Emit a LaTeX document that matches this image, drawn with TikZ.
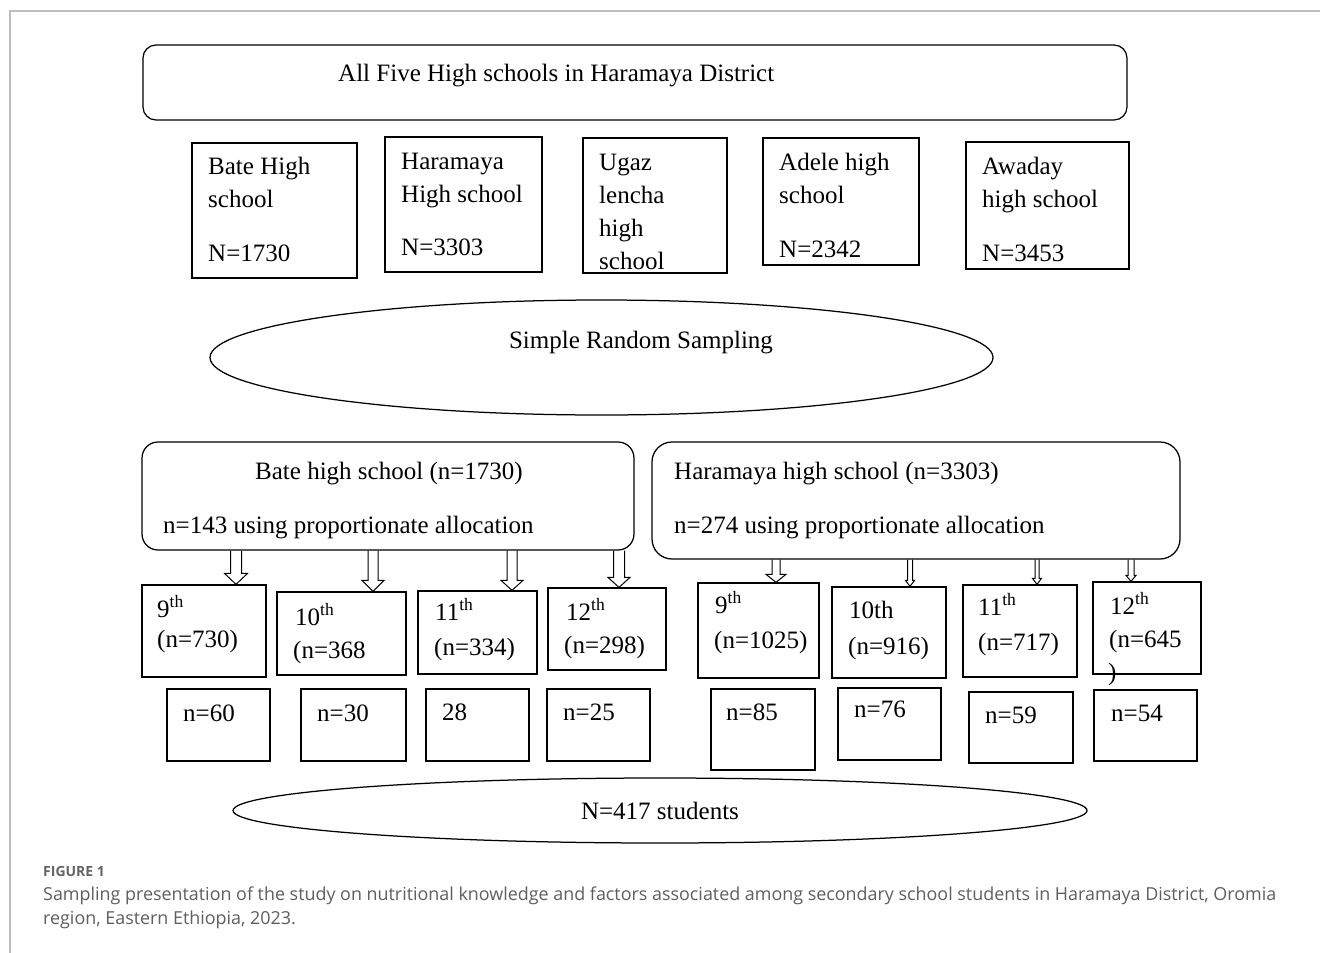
\documentclass[tikz,border=0pt]{standalone}
\usepackage{fontspec}
\setmainfont{Liberation Serif}
\newfontfamily\capfont{Open Sans}
\usetikzlibrary{shapes.geometric,calc}
\definecolor{framegray}{RGB}{190,190,190}
\definecolor{capgray}{RGB}{95,95,95}
\definecolor{figgray}{RGB}{100,100,100}
\tikzset{
  sbox/.style={draw, line width=1.25pt, rectangle, inner sep=0pt},
  rbox/.style={sbox, rounded corners=#1},
  oval/.style={draw, line width=1.25pt, ellipse, inner sep=0pt},
  lbl/.style={anchor=base west, inner sep=0pt, font=\fontsize{25}{30}\selectfont},
  clbl/.style={anchor=base, inner sep=0pt, font=\fontsize{25}{30}\selectfont},
  arrowline/.style={draw, line width=1pt, line join=miter},
  captxt/.style={anchor=base west, inner sep=0pt, text=capgray, font=\capfont\fontsize{17.9}{22}\selectfont},
}
\newcommand\blkarrow[6]{%
  \draw[arrowline] let \p2=(#2.south), \p3=(#3.north) in
    (#1pt-#4pt,\y2) -- (#1pt-#4pt,\y3+#6pt) -- (#1pt-#5pt,\y3+#6pt) -- (#1pt,\y3)
    -- (#1pt+#5pt,\y3+#6pt) -- (#1pt+#4pt,\y3+#6pt) -- (#1pt+#4pt,\y2);}
\begin{document}
\begin{tikzpicture}[x=1pt,y=-1pt]
\useasboundingbox (0,0) rectangle (1320,953);
\fill[white] (0,0) rectangle (1320,953);
\draw[framegray, line width=1.3pt] (1320,11) -- (10,11) -- (10,953);

% top box
\node[rbox=13pt, minimum width=984pt, minimum height=75pt] (top) at (635,82.5) {};
\node[lbl] (toptxt) at (338,81) {All Five High schools in Haramaya District};

% five schools
\node[sbox, minimum width=165pt, minimum height=135pt] (bate) at (274.5,210.5) {};
\node[lbl] (bate1) at (208,174) {Bate High};
\node[lbl] (bate2) at (208,207) {school};
\node[lbl] (bate3) at (208,261) {N=1730};

\node[sbox, minimum width=157pt, minimum height=135pt] (hara) at (463.5,204.5) {};
\node[lbl] (hara1) at (401,169) {Haramaya};
\node[lbl] (hara2) at (401,202) {High school};
\node[lbl] (hara3) at (401,255) {N=3303};

\node[sbox, minimum width=144pt, minimum height=135pt] (ugaz) at (655,205.5) {};
\node[lbl] (ugaz1) at (599,170) {Ugaz};
\node[lbl] (ugaz2) at (599,203) {lencha};
\node[lbl] (ugaz3) at (599,236) {high};
\node[lbl] (ugaz4) at (599,269) {school};

\node[sbox, minimum width=156pt, minimum height=127pt] (adele) at (841,201.5) {};
\node[lbl] (adele1) at (779,170) {Adele high};
\node[lbl] (adele2) at (779,203) {school};
\node[lbl] (adele3) at (779,257) {N=2342};

\node[sbox, minimum width=163pt, minimum height=127pt] (awa) at (1047.5,205.5) {};
\node[lbl] (awa1) at (982,174) {Awaday};
\node[lbl] (awa2) at (982,207) {high school};
\node[lbl] (awa3) at (982,261) {N=3453};

% sampling ellipse
\node[oval, minimum width=783pt, minimum height=115pt] (srs) at (601.5,357.5) {};
\node[clbl] (srstxt) at (641,348) {Simple Random Sampling};

% two selected schools
\node[rbox=16pt, minimum width=492pt, minimum height=108pt] (bsel) at (388,496) {};
\node[lbl] (bsel1) at (255,479) {Bate high school (n=1730)};
\node[lbl] (bsel2) at (163,533) {n=143 using proportionate allocation};

\node[rbox=20pt, minimum width=528pt, minimum height=117pt] (hsel) at (916,500.5) {};
\node[lbl] (hsel1) at (674,479) {Haramaya high school (n=3303)};
\node[lbl] (hsel2) at (674,533) {n=274 using proportionate allocation};

% grade boxes, Bate
\node[sbox, minimum width=124pt, minimum height=92pt] (g1) at (204,631) {};
\node[lbl] (g1a) at (157,617) {9\textsuperscript{th}};
\node[lbl] (g1b) at (157,647) {(n=730)};
\node[sbox, minimum width=129pt, minimum height=83pt] (g2) at (341.5,633.5) {};
\node[lbl] (g2a) at (295,625) {10\textsuperscript{th}};
\node[lbl] (g2b) at (293,658) {(n=368};
\node[sbox, minimum width=119pt, minimum height=83pt] (g3) at (477.5,632.5) {};
\node[lbl] (g3a) at (435,620) {11\textsuperscript{th}};
\node[lbl] (g3b) at (434,655) {(n=334)};
\node[sbox, minimum width=118pt, minimum height=82pt] (g4) at (607,629) {};
\node[lbl] (g4a) at (566,620) {12\textsuperscript{th}};
\node[lbl] (g4b) at (564,653) {(n=298)};

% sample boxes, Bate
\node[sbox, minimum width=103pt, minimum height=72pt] (s1) at (218.5,725) {};
\node[lbl] (s1t) at (183,721) {n=60};
\node[sbox, minimum width=105pt, minimum height=72pt] (s2) at (353.5,725) {};
\node[lbl] (s2t) at (317,721) {n=30};
\node[sbox, minimum width=103pt, minimum height=72pt] (s3) at (477.5,725) {};
\node[lbl] (s3t) at (442,720) {28};
\node[sbox, minimum width=103pt, minimum height=72pt] (s4) at (598.5,725) {};
\node[lbl] (s4t) at (563,720) {n=25};

% grade boxes, Haramaya
\node[sbox, minimum width=121pt, minimum height=95pt] (g5) at (758.5,630.5) {};
\node[lbl] (g5a) at (715,613) {9\textsuperscript{th}};
\node[lbl] (g5b) at (714,648) {(n=1025)};
\node[sbox, minimum width=114pt, minimum height=91pt] (g6) at (889,632.5) {};
\node[lbl] (g6a) at (849,618) {10th};
\node[lbl] (g6b) at (848,654) {(n=916)};
\node[sbox, minimum width=114pt, minimum height=92pt] (g7) at (1020,631) {};
\node[lbl] (g7a) at (978,615) {11\textsuperscript{th}};
\node[lbl] (g7b) at (978,650) {(n=717)};
\node[sbox, minimum width=108pt, minimum height=92pt] (g8) at (1147,628) {};
\node[lbl] (g8a) at (1110,614) {12\textsuperscript{th}};
\node[lbl] (g8b) at (1109,647) {(n=645};
\node[lbl] (g8c) at (1108,680) {)};

% sample boxes, Haramaya
\node[sbox, minimum width=104pt, minimum height=81pt] (s5) at (763,729.5) {};
\node[lbl] (s5t) at (726,720) {n=85};
\node[sbox, minimum width=103pt, minimum height=72pt] (s6) at (889.5,724) {};
\node[lbl] (s6t) at (854,717) {n=76};
\node[sbox, minimum width=104pt, minimum height=71pt] (s7) at (1021,727.5) {};
\node[lbl] (s7t) at (985,723) {n=59};
\node[sbox, minimum width=103pt, minimum height=71pt] (s8) at (1145.5,725.5) {};
\node[lbl] (s8t) at (1111,721) {n=54};

% total ellipse
\node[oval, minimum width=854pt, minimum height=65pt] (tot) at (660,810.5) {};
\node[clbl] (tottxt) at (660,819) {N=417 students};

% block arrows
\blkarrow{236}{bsel}{g1}{5.5}{11.5}{11}
\blkarrow{373}{bsel}{g2}{5}{11}{11}
\blkarrow{512}{bsel}{g3}{5}{11}{10}
\blkarrow{619}{bsel}{g4}{5.5}{11}{10}
\blkarrow{776}{hsel}{g5}{4}{10}{8}
\blkarrow{910}{hsel}{g6}{2.5}{4.5}{6}
\blkarrow{1037}{hsel}{g7}{2}{4.5}{6}
\blkarrow{1131}{hsel}{g8}{3}{5}{6}

% caption
\node[anchor=base west, inner sep=0pt, text=figgray, font=\capfont\bfseries\fontsize{14}{16}\selectfont] (figlbl) at (43,876) {FIGURE 1};
\node[captxt] (cap1) at (43,900) {Sampling presentation of the study on nutritional knowledge and factors associated among secondary school students in Haramaya District, Oromia};
\node[captxt] (cap2) at (43,924) {region, Eastern Ethiopia, 2023.};
\end{tikzpicture}
\end{document}
